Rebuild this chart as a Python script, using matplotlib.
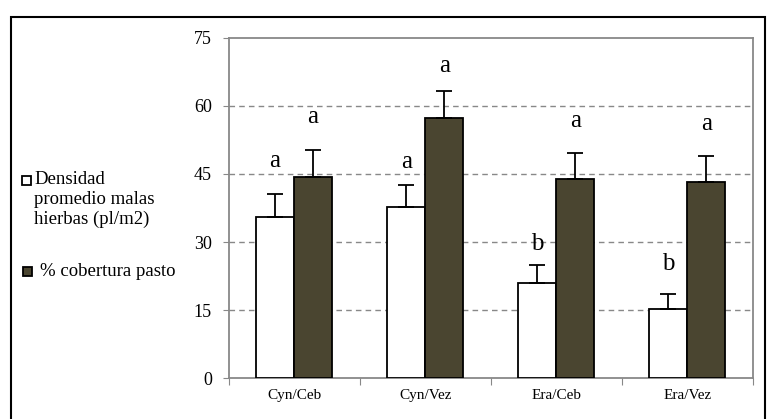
import numpy as np
import matplotlib.pyplot as plt
from matplotlib.patches import Rectangle

plt.rcParams['font.family'] = ['Liberation Serif', 'DejaVu Serif']

# Data
categorias = ["Cyn/Ceb", "Cyn/Vez", "Era/Ceb", "Era/Vez"]
densidad = [35.6, 37.8, 20.9, 15.3]
densidad_err = [5.0, 4.8, 4.1, 3.2]
cobertura = [44.4, 57.4, 43.9, 43.3]
cobertura_err = [5.9, 5.9, 5.8, 5.6]
letras_densidad = ["a", "a", "b", "b"]
letras_densidad_y = [46.5, 46.2, 28.3, 23.9]
letras_cobertura = ["a", "a", "a", "a"]
letras_cobertura_y = [56.2, 67.4, 55.4, 54.7]
serie_labels = ["Densidad\npromedio malas\nhierbas (pl/m2)", "% cobertura pasto"]

dark = "#4a4530"
W, H = 767, 419

fig = plt.figure(figsize=(W / 100, H / 100), dpi=100)
ax = fig.add_axes([228.5 / W, 1 - 378.3 / H, 524.5 / W, 340.6 / H])

x = np.arange(len(categorias))
w = 0.29
ax.bar(x - w / 2, densidad, w, color="white", edgecolor="black", linewidth=1.3, zorder=3)
ax.bar(x + w / 2, cobertura, w, color=dark, edgecolor="black", linewidth=1.3, zorder=3)

ax.errorbar(x - w / 2, densidad, yerr=[np.zeros(4), densidad_err], fmt="none",
            ecolor="black", elinewidth=1.3, capsize=6, capthick=1.3, zorder=4)
ax.errorbar(x + w / 2, cobertura, yerr=[np.zeros(4), cobertura_err], fmt="none",
            ecolor="black", elinewidth=1.3, capsize=6, capthick=1.3, zorder=4)

# significance letters
for i in range(len(categorias)):
    ax.text(x[i] - w / 2, letras_densidad_y[i], letras_densidad[i],
            ha="center", va="baseline", fontsize=18, zorder=5)
    ax.text(x[i] + w / 2, letras_cobertura_y[i], letras_cobertura[i],
            ha="center", va="baseline", fontsize=18, zorder=5)

ax.set_ylim(0, 75)
ax.set_xlim(-0.5, len(categorias) - 0.5)
ax.set_yticks([0, 15, 30, 45, 60, 75])
ax.tick_params(axis="y", labelsize=13, length=4, color="#888888", pad=8)
ax.set_xticks(np.arange(len(categorias) + 1) - 0.5)
ax.set_xticklabels([])
ax.set_xticks(x, minor=True)
ax.set_xticklabels(categorias, minor=True, fontsize=11)
ax.tick_params(axis="x", which="major", length=5, color="#888888")
ax.tick_params(axis="x", which="minor", length=0, pad=8)

for y in [15, 30, 45, 60]:
    ax.axhline(y, color="#888888", linestyle=(0, (4, 3)), linewidth=1, zorder=1)
for s in ax.spines.values():
    s.set_color("#888888")
    s.set_linewidth(1.3)

# legend on the left, drawn by hand
fig.patches.append(Rectangle((22 / W, 1 - 185.5 / H), 9 / W, 9 / H, transform=fig.transFigure,
                             facecolor="white", edgecolor="black", linewidth=1.3))
fig.text(34 / W, 1 - 171 / H, serie_labels[0], ha="left", va="top",
         fontsize=13.5, linespacing=1.2, transform=fig.transFigure)
fig.patches.append(Rectangle((23 / W, 1 - 275.5 / H), 9 / W, 9 / H, transform=fig.transFigure,
                             facecolor=dark, edgecolor="black", linewidth=1.3))
fig.text(40 / W, 1 - 271 / H, serie_labels[1], ha="left", va="center",
         fontsize=13.5, transform=fig.transFigure)

# outer frame
fig.patches.append(Rectangle((11 / W, -0.02), 754 / W, 1.02 - 17 / H,
                             transform=fig.transFigure, fill=False,
                             edgecolor="black", linewidth=1.5))

fig.savefig("out.png", dpi=100)
